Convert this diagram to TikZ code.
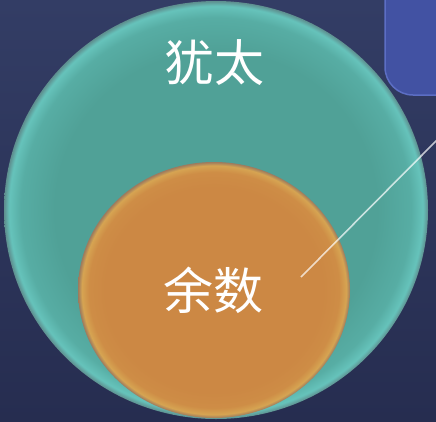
\documentclass[tikz,border=0pt]{standalone}
\usepackage{fontspec}
\newfontfamily\cjk{Noto Sans CJK SC}
\definecolor{bgtop}{HTML}{333D65}
\definecolor{bgbot}{HTML}{262D50}
\definecolor{tealA}{HTML}{50A197}
\definecolor{tealB}{HTML}{57ADA4}
\definecolor{tealC}{HTML}{66C3BB}
\definecolor{tealRim}{HTML}{5E8E8E}
\definecolor{orA}{HTML}{CC8844}
\definecolor{orB}{HTML}{CE8D46}
\definecolor{orC}{HTML}{D6A452}
\definecolor{orRim}{HTML}{9C7A5E}
\definecolor{boxfill}{HTML}{4252A3}
\definecolor{boxedge}{HTML}{5C6EC4}
\pgfdeclareradialshading{tealshade}{\pgfpoint{0bp}{0bp}}{color(0bp)=(tealA); color(19bp)=(tealA); color(23bp)=(tealB); color(24.4bp)=(tealC); color(25bp)=(tealRim); color(50bp)=(tealRim)}
\pgfdeclareradialshading{orshade}{\pgfpoint{0bp}{0bp}}{color(0bp)=(orA); color(20bp)=(orA); color(23bp)=(orB); color(24.3bp)=(orC); color(25bp)=(orRim); color(50bp)=(orRim)}
\tikzset{
  label text/.style={text=white, font=\cjk\fontsize{50}{56}\selectfont, inner sep=0pt},
  pointer/.style={white, opacity=0.7, line width=1.6pt}
}
\begin{document}
\begin{tikzpicture}[x=1pt,y=-1pt]
\useasboundingbox (0,0) rectangle (436,421);
\clip (0,0) rectangle (436,421);
\shade[top color=bgtop, bottom color=bgbot] (0,0) rectangle (436,421);
% blue rounded box (partially visible)
\draw[fill=boxfill, draw=boxedge, line width=1.5pt, rounded corners=28pt] (385,-40) rectangle (480,95);
% big teal circle
\shade[shading=tealshade] (216,210) ellipse [x radius=212, y radius=209];
% orange circle
\shade[shading=orshade] (214,290) ellipse [x radius=136, y radius=128];
% labels
\node[label text] (jew) at (214,63) {犹太};
\node[label text] (rem) at (213,290) {余数};
% pointer line
\coordinate (p1) at (301,277);
\coordinate (p2) at (437,140);
\draw[pointer] (p1) -- (p2);
\end{tikzpicture}
\end{document}
